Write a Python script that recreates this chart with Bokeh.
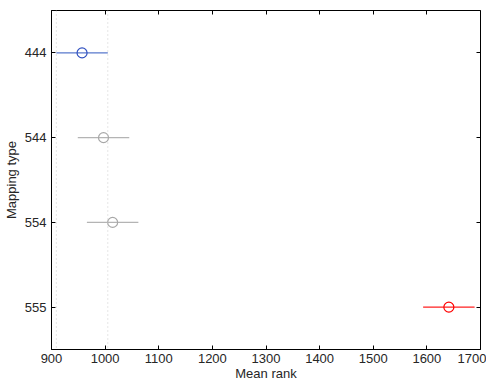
from bokeh.plotting import figure
from bokeh.models import Range1d, FixedTicker, Span, LinearAxis
from bokeh.embed import file_html
from bokeh.resources import INLINE

# data
groups = ["444", "544", "554", "555"]
means = [957, 997, 1014, 1641]
lower = [909, 949, 966, 1593]
upper = [1005, 1045, 1062, 1689]
colors = ["#3050c0", "#a8a8a8", "#a8a8a8", "#ff0000"]
line_colors = ["#5878cc", "#b4b4b4", "#b4b4b4", "#ff2020"]
x_ticks = [900, 1000, 1100, 1200, 1300, 1400, 1500, 1600, 1700]

FONT = "Liberation Sans"
n = len(groups)
ypos = [n - i for i in range(n)]

p = figure(width=486, height=383, output_backend="svg", toolbar_location=None,
           x_range=Range1d(x_ticks[0], x_ticks[-1]), y_range=Range1d(0.5, n + 0.5),
           x_axis_label="Mean rank", y_axis_label="Mapping type")
p.min_border_left = 45
p.min_border_right = 6
p.min_border_top = 10
p.min_border_bottom = 34
p.outline_line_color = "black"
p.outline_line_width = 1
p.background_fill_color = "white"
p.border_fill_color = "white"
p.grid.visible = False

# dotted reference lines at the interval of the selected group
for loc in (lower[0], upper[0]):
    p.add_layout(Span(location=loc, dimension="height", line_color="#cccccc",
                      line_dash="1 3", line_width=1))

for y, m, lo, hi, c, lc in zip(ypos, means, lower, upper, colors, line_colors):
    p.segment(x0=[lo], y0=[y], x1=[hi], y1=[y], line_color=lc, line_width=1.2)
    p.scatter(x=[m], y=[y], marker="circle", size=10, fill_color=None,
              line_color=c, line_width=1.2)

xa = p.xaxis[0]
xa.ticker = FixedTicker(ticks=x_ticks)
ya = p.yaxis[0]
ya.ticker = FixedTicker(ticks=ypos)
ya.major_label_overrides = {y: g for y, g in zip(ypos, groups)}
for ax in (xa, ya):
    ax.axis_line_color = "black"
    ax.major_tick_in = 4
    ax.major_tick_out = 0
    ax.minor_tick_line_color = None
    ax.major_label_text_font = FONT
    ax.major_label_text_font_size = "13px"
    ax.major_label_text_color = "#262626"
    ax.axis_label_text_font = FONT
    ax.axis_label_text_font_size = "13px"
    ax.axis_label_text_font_style = "normal"
    ax.axis_label_text_color = "#262626"
xa.major_label_standoff = 4
xa.axis_label_standoff = 0
ya.major_label_standoff = 5
ya.axis_label_standoff = 3

# box ticks on the top and right edges (no labels)
top = LinearAxis(ticker=FixedTicker(ticks=x_ticks), major_tick_in=4, major_tick_out=0,
                 minor_tick_line_color=None, axis_line_color=None,
                 major_label_text_color=None, major_label_text_font_size="1px",
                 major_label_standoff=0)
p.add_layout(top, "above")
right = LinearAxis(ticker=FixedTicker(ticks=ypos), major_tick_in=4, major_tick_out=0,
                   minor_tick_line_color=None, axis_line_color=None,
                   major_label_text_color=None, major_label_text_font_size="1px",
                   major_label_standoff=0)
p.add_layout(right, "right")

open("out.html", "w").write(file_html(p, INLINE))
